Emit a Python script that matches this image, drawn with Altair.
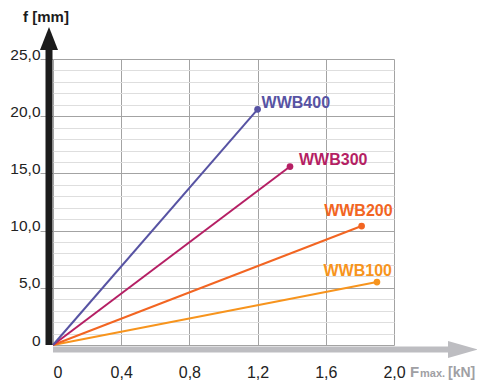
import altair as alt
import pandas as pd

# ---- data ----
series = ["WWB100", "WWB200", "WWB300", "WWB400"]
force_kn = [1.90, 1.81, 1.39, 1.20]        # F max. [kN] at end point
deflection_mm = [5.5, 10.4, 15.6, 20.6]    # f [mm] at end point
colors = ["#f7941d", "#f26522", "#b51f64", "#5753a3"]
x_ticks = [0, 0.4, 0.8, 1.2, 1.6, 2.0]
y_ticks = list(range(0, 26))

rows = []
for s, fk, fm in zip(series, force_kn, deflection_mm):
    rows.append({"series": s, "F": 0.0, "f": 0.0})
    rows.append({"series": s, "F": fk, "f": fm})
lines_df = pd.DataFrame(rows)
ends_df = pd.DataFrame({"series": series, "F": force_kn, "f": deflection_mm})

FONT = "Liberation Sans"
xscale = alt.Scale(domain=[0, 2], nice=False, zero=False)
yscale = alt.Scale(domain=[0, 25], nice=False)
color = alt.Color("series:N", scale=alt.Scale(domain=series, range=colors), legend=None)

major = "datum.value % 5 === 0"
x_axis = alt.Axis(
    values=x_ticks, tickCount=50, grid=True, gridColor="#a3a3a3", gridWidth=1,
    domain=False, ticks=False, title=None,
    labelExpr="datum.value === 0 ? '0' : replace(format(datum.value, '.1f'), '.', ',')",
    labelFont=FONT, labelFontSize=16, labelColor="#222222", labelPadding=19,
    labelAlign={"condition": {"test": "datum.value === 0", "value": "left"}, "value": "center"},
    labelBaseline="top", labelOverlap=False, labelFlush=False,
)
y_axis = alt.Axis(
    values=y_ticks, tickCount=50, grid=True,
    gridColor={"condition": {"test": major, "value": "#a3a3a3"}, "value": "#dedede"},
    gridWidth=1, domain=False, tickSize=13,
    tickColor={"condition": {"test": major + " && datum.value > 0", "value": "#a3a3a3"},
               "value": "rgba(0,0,0,0)"},
    title=None,
    labelExpr=major + " ? (datum.value === 0 ? '0' : replace(format(datum.value, '.1f'), '.', ',')) : ''",
    labelFont=FONT, labelFontSize=15.5, labelColor="#222222", labelPadding=0,
    labelBaseline="alphabetic", labelOverlap=False, labelFlush=False,
)

X = alt.X("F:Q", scale=xscale, title=None)
Y = alt.Y("f:Q", scale=yscale, title=None)

lines = alt.Chart(lines_df).mark_line(strokeWidth=2).encode(
    x=alt.X("F:Q", scale=xscale, axis=x_axis),
    y=alt.Y("f:Q", scale=yscale, axis=y_axis),
    color=color,
    detail="series:N",
)
points = alt.Chart(ends_df).mark_circle(size=45, opacity=1).encode(x=X, y=Y, color=color)

# per-label offsets (dx, dy, align)
label_style = {
    "WWB400": (4, -6.5, "left"),
    "WWB300": (9, -6.5, "left"),
    "WWB200": (31, -15, "right"),
    "WWB100": (15, -11, "right"),
}
label_layers = []
for s in series:
    dx, dy, al = label_style[s]
    label_layers.append(
        alt.Chart(ends_df[ends_df.series == s]).mark_text(
            font=FONT, fontSize=16, fontWeight="bold", align=al, baseline="middle", dx=dx, dy=dy
        ).encode(x=X, y=Y, text="series:N", color=color)
    )

# axis arrows
y_bar = alt.Chart(pd.DataFrame({"F": [0.0], "f": [0.0], "f2": [25.9]})).mark_rule(
    strokeWidth=7, color="#1c1c1c", xOffset=-4, strokeCap="butt"
).encode(x=X, y=Y, y2="f2:Q")
y_head = alt.Chart(pd.DataFrame({"F": [0.0], "f": [26.78]})).mark_point(
    shape="M0,-1.3L-1,1.25L1,1.25Z", size=324, filled=True, opacity=1,
    color="#1c1c1c", xOffset=-4,
).encode(x=X, y=Y)
x_bar = alt.Chart(pd.DataFrame({"F": [0.0], "F2": [2.32], "f": [0.0]})).mark_rule(
    strokeWidth=6, color="#bdbdc1", yOffset=4.5, strokeCap="butt"
).encode(x=X, x2="F2:Q", y=Y)
x_head = alt.Chart(pd.DataFrame({"F": [2.404], "f": [0.0]})).mark_point(
    shape="M-1.75,-1L1.78,0L-1.75,1Z", size=289, filled=True, opacity=1,
    color="#bdbdc1", yOffset=4.5,
).encode(x=X, y=Y)

# axis titles
y_title = alt.Chart(pd.DataFrame({"t": ["f [mm]"]})).mark_text(
    font=FONT, fontSize=15, fontWeight="bold", color="#1c1c1c", align="center", baseline="alphabetic"
).encode(x=alt.value(-7), y=alt.value(-37), text="t:N")

gray = "#a0a0a4"
x_title_F = alt.Chart(pd.DataFrame({"t": ["F"]})).mark_text(
    font=FONT, fontSize=15, fontWeight="bold", color=gray, align="left", baseline="alphabetic"
).encode(x=alt.value(357), y=alt.value(318), text="t:N")
x_title_max = alt.Chart(pd.DataFrame({"t": ["max."]})).mark_text(
    font=FONT, fontSize=11, fontWeight="bold", color=gray, align="left", baseline="alphabetic"
).encode(x=alt.value(367), y=alt.value(318), text="t:N")
x_title_kn = alt.Chart(pd.DataFrame({"t": ["[kN]"]})).mark_text(
    font=FONT, fontSize=14, fontWeight="bold", color=gray, align="left", baseline="alphabetic"
).encode(x=alt.value(395), y=alt.value(318), text="t:N")

chart = alt.layer(
    lines, points, *label_layers, y_bar, y_head, x_bar, x_head,
    y_title, x_title_F, x_title_max, x_title_kn,
).properties(
    width=341, height=286,
    autosize=alt.AutoSizeParams(type="none"),
    padding={"left": 45, "top": 51, "right": 83, "bottom": 40},
).configure_view(stroke=None)

chart.save("out.html", embed_options={"renderer": "svg", "actions": False})
